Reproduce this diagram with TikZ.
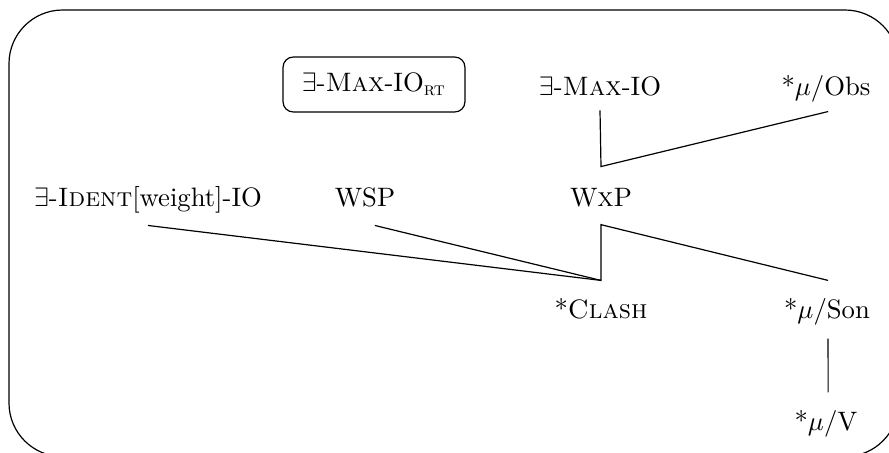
\documentclass[tikz,border=0pt]{standalone}
\begin{document}
\begin{tikzpicture}[x=0.375pt,y=-0.375pt,
  lbl/.style={inner sep=0pt,text height=7pt,text depth=2pt,anchor=base},
  conn/.style={line width=0.45pt},
  frame/.style={line width=0.45pt,rounded corners=20.1pt},
  rtbox/.style={draw,line width=0.45pt,rounded corners=3.8pt,minimum width=68.2pt,minimum height=20.6pt,inner sep=0pt}]
\useasboundingbox (0,0) rectangle (889,452);
\clip (0,0) rectangle (889,452);
\draw[frame] (9,10) rectangle (898.6,456.6);
\node[rtbox] (rt) at (374,84.5) {$\exists$-\textsc{Max}-IO\textsubscript{\textsc{rt}}};
\node[lbl] (maxio) at (600,95) {$\exists$-\textsc{Max}-IO};
\node[lbl] (obs) at (826,95) {*$\mu/$Obs};
\node[lbl] (ident) at (148,206) {$\exists$-\textsc{Ident}[weight]-IO};
\node[lbl] (wsp) at (365,206) {WSP};
\node[lbl] (wxp) at (601,206) {W\textsc{x}P};
\node[lbl] (clash) at (601,318) {*\textsc{Clash}};
\node[lbl] (son) at (827,318) {*$\mu/$Son};
\node[lbl] (v) at (826,430) {*$\mu/$V};
\draw[conn] ([yshift=-3.6pt]maxio.south) -- ([yshift=7.6pt]wxp.north)
  -- ([xshift=0.8pt,yshift=-4pt]obs.south);
\draw[conn] ([yshift=-5.1pt]ident.south) -- ([yshift=6.9pt]clash.north);
\draw[conn] ([xshift=3.7pt,yshift=-5.1pt]wsp.south) -- ([yshift=6.9pt]clash.north)
  -- ([yshift=-4.8pt]wxp.south) -- ([xshift=0.4pt,yshift=6.9pt]son.north);
\draw[conn] ([xshift=0.4pt,yshift=-5.5pt]son.south) -- ([xshift=0.8pt,yshift=6.9pt]v.north);
\end{tikzpicture}
\end{document}
